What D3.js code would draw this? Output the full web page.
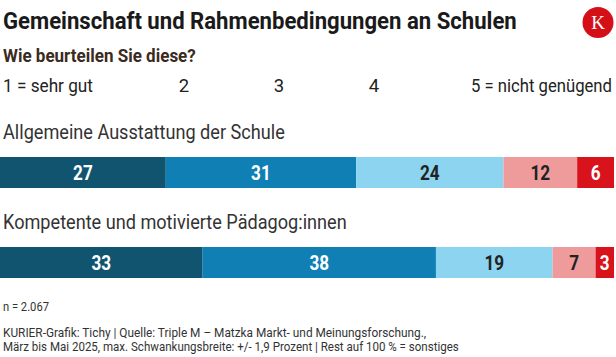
<!DOCTYPE html>
<html>
<head>
<meta charset="utf-8">
<script src="https://cdn.jsdelivr.net/npm/d3@7"></script>
<style>
  html, body { margin: 0; padding: 0; background: #fff; }
  svg { display: block; }
  text { font-family: "Liberation Sans Narrow", "Roboto", "DejaVu Sans Condensed", sans-serif; }
</style>
</head>
<body>
<svg id="chart" width="616" height="357"></svg>
<script>
// ---- data ----
const title = "Gemeinschaft und Rahmenbedingungen an Schulen";
const subtitle = "Wie beurteilen Sie diese?";
const scaleLabels = ["1 = sehr gut", "2", "3", "4", "5 = nicht genügend"];
const categories = ["Allgemeine Ausstattung der Schule", "Kompetente und motivierte Pädagog:innen"];
const grade1 = [27, 33];
const grade2 = [31, 38];
const grade3 = [24, 19];
const grade4 = [12, 7];
const grade5 = [6, 3];
const note = "n = 2.067";
const source1 = "KURIER-Grafik: Tichy | Quelle: Triple M – Matzka Markt- und Meinungsforschung.,";
const source2 = "März bis Mai 2025, max. Schwankungsbreite: +/- 1,9 Prozent | Rest auf 100 % = sonstiges";

const colors = ["#10546f", "#0f7fb4", "#8dd4f0", "#ef9b9b", "#d8131b"];
const labelColors = ["#fff", "#fff", "#222", "#222", "#fff"];

const svg = d3.select("#chart");

// place a text starting at (x,y) and squeeze it horizontally to a target width
function fitted(parent, x, y, width, str, attrs) {
  const t = parent.append("text").attr("x", 0).attr("y", 0).text(str);
  Object.entries(attrs).forEach(([k, v]) => t.attr(k, v));
  const w = t.node().getComputedTextLength();
  const s = w > 0 ? width / w : 1;
  t.attr("transform", `translate(${x},${y}) scale(${s},1)`);
  return t;
}

// Title
fitted(svg, 3, 28.5, 514, title,
  { "font-size": 23.5, "font-weight": "bold", "fill": "#1a1a1a" });

// Logo
const logo = svg.append("g").attr("transform", "translate(598,22.5)");
logo.append("circle").attr("r", 15.5).attr("fill", "#d40f17");
logo.append("text").attr("text-anchor", "middle").attr("y", 6.5)
  .attr("font-size", 19).attr("fill", "#fff")
  .style("font-family", "'Liberation Serif', 'DejaVu Serif', serif")
  .text("K");

// Subtitle
fitted(svg, 3, 62, 193, subtitle,
  { "font-size": 18.5, "font-weight": "bold", "fill": "#3b2a20" });

// Scale legend
fitted(svg, 3, 92, 90, scaleLabels[0], { "font-size": 18.5, "fill": "#222" });
const midX = [184, 279, 374];
svg.selectAll("text.leg").data(scaleLabels.slice(1, 4)).join("text").attr("class", "leg")
  .attr("x", (d, i) => midX[i]).attr("y", 92)
  .attr("text-anchor", "middle")
  .attr("font-size", 18.5).attr("fill", "#222")
  .text(d => d);
fitted(svg, 471, 92, 141, scaleLabels[4], { "font-size": 18.5, "fill": "#222" });

// Bars
const x = d3.scaleLinear().domain([0, 100]).range([0, 614]);
const rowTop = [157, 247];
const rowLabelY = [139, 229];
const barH = 31;
const series = [grade1, grade2, grade3, grade4, grade5];
const labelWidths = [282, 344];

categories.forEach((cat, r) => {
  fitted(svg, 3, rowLabelY[r], labelWidths[r], cat, { "font-size": 19.5, "fill": "#333" });

  let cum = 0;
  const segs = series.map((s, k) => {
    const o = { k, v: s[r], x0: cum, x1: cum + s[r] };
    cum += s[r];
    return o;
  });
  const g = svg.append("g").attr("transform", `translate(0,${rowTop[r]})`);
  g.selectAll("rect").data(segs).join("rect")
    .attr("x", d => x(d.x0)).attr("width", d => x(d.x1) - x(d.x0))
    .attr("y", 0).attr("height", barH)
    .attr("fill", d => colors[d.k]);
  g.selectAll("text").data(segs).join("text")
    .attr("text-anchor", "middle").attr("font-size", 19.5).attr("font-weight", "bold")
    .attr("fill", d => labelColors[d.k])
    .attr("transform", d => `translate(${(x(d.x0) + x(d.x1)) / 2},23) scale(0.88,1)`)
    .text(d => d.v);
});

// Notes
const noteAttrs = { "font-size": 12, "fill": "#333" };
fitted(svg, 3, 311, 46, note, noteAttrs);
fitted(svg, 3, 337, 424, source1, noteAttrs);
fitted(svg, 3, 351, 456, source2, noteAttrs);
</script>
</body>
</html>
